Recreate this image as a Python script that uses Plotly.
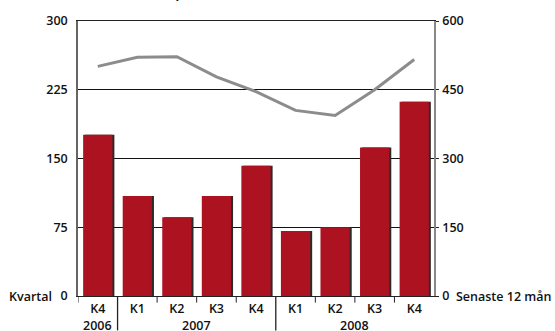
import plotly.graph_objects as go

# Quarterly operating result (left axis, Mkr) and rolling 12-month figure (right axis)
quarters = ["K4", "K1", "K2", "K3", "K4", "K1", "K2", "K3", "K4"]
years = ["2006", "2007", "2008"]
year_centers = [0, 2.5, 6.5]
quarterly = [176, 109, 86, 109, 142, 71, 75, 162, 212]
rolling_12m = [501, 521, 522, 478, 446, 405, 394, 450, 516]
left_ticks = [0, 75, 150, 225, 300]
right_ticks = [0, 150, 300, 450, 600]

x = list(range(len(quarters)))
RED = "#AD1220"
FONT = "Open Sans"
TXT = dict(family=FONT, size=12.5, color="#111", weight=600)
BAR_W = 0.74

fig = go.Figure()

# thin dark shadow behind each bar, nudged to the right
fig.add_trace(go.Bar(
    x=x, y=quarterly, width=BAR_W, offset=-BAR_W / 2 + 0.05,
    marker=dict(color="#2a2a2a", line=dict(width=0)),
    hoverinfo="skip", showlegend=False,
))
fig.add_trace(go.Bar(
    x=x, y=quarterly, width=BAR_W, offset=-BAR_W / 2,
    marker=dict(color=RED, line=dict(width=0)),
    showlegend=False,
))
fig.add_trace(go.Scatter(
    x=x, y=rolling_12m, yaxis="y2", mode="lines",
    line=dict(color="#8c8c8c", width=3),
    showlegend=False,
))

shapes = []
# boundary ticks below the category axis; the longer ones split the years
for k in range(len(quarters)):
    bx = k - 0.5
    long = k in (1, 5)
    shapes.append(dict(
        type="line", xref="x", yref="paper",
        x0=bx, x1=bx, y0=0, y1=(-0.125 if long else -0.024),
        line=dict(color="#222", width=1.3 if long else 1),
    ))

annotations = [
    dict(text=yr, x=xc, xref="x", y=0, yref="paper", yanchor="top",
         yshift=-19, showarrow=False, font=TXT)
    for yr, xc in zip(years, year_centers)
]
annotations += [
    dict(text="Kvartal", x=0, xref="paper", y=0, yref="y", xanchor="right",
         yanchor="middle", xshift=-24, showarrow=False, font=TXT),
    dict(text="Senaste 12 mån", x=1, xref="paper", y=0, yref="y", xanchor="left",
         yanchor="middle", xshift=20, showarrow=False, font=TXT),
    dict(text="<b>Rörelseresultat per kvartal (Mkr)</b>", x=0, xref="paper",
         y=1, yref="paper", xanchor="left", yanchor="bottom", yshift=17,
         showarrow=False, font=dict(family=FONT, size=12, color="#111")),
]

fig.update_layout(
    width=555, height=331,
    margin=dict(l=78, r=121, t=18, b=35),
    paper_bgcolor="white", plot_bgcolor="white",
    barmode="overlay", bargap=0.26,
    font=TXT,
    xaxis=dict(
        range=[-0.5, len(quarters) - 0.5],
        tickvals=x, ticktext=quarters, ticks="", ticklabelstandoff=1,
        tickfont=TXT,
        showgrid=False, zeroline=False,
        showline=True, mirror=True, linecolor="#222", linewidth=1,
        fixedrange=True,
    ),
    yaxis=dict(
        range=[0, 300], tickvals=left_ticks, ticks="", ticklabelstandoff=6,
        tickfont=TXT,
        showgrid=True, gridcolor="#111", gridwidth=1,
        zeroline=False, showline=True, linecolor="#666", linewidth=1.5,
    ),
    yaxis2=dict(
        range=[0, 600], tickvals=right_ticks, overlaying="y", side="right",
        ticks="outside", ticklen=3, tickcolor="#222", ticklabelstandoff=1,
        tickfont=TXT,
        showgrid=False, zeroline=False, showline=True, linecolor="#888", linewidth=1.5,
    ),
    shapes=shapes,
    annotations=annotations,
)

fig.write_html("out.html")
